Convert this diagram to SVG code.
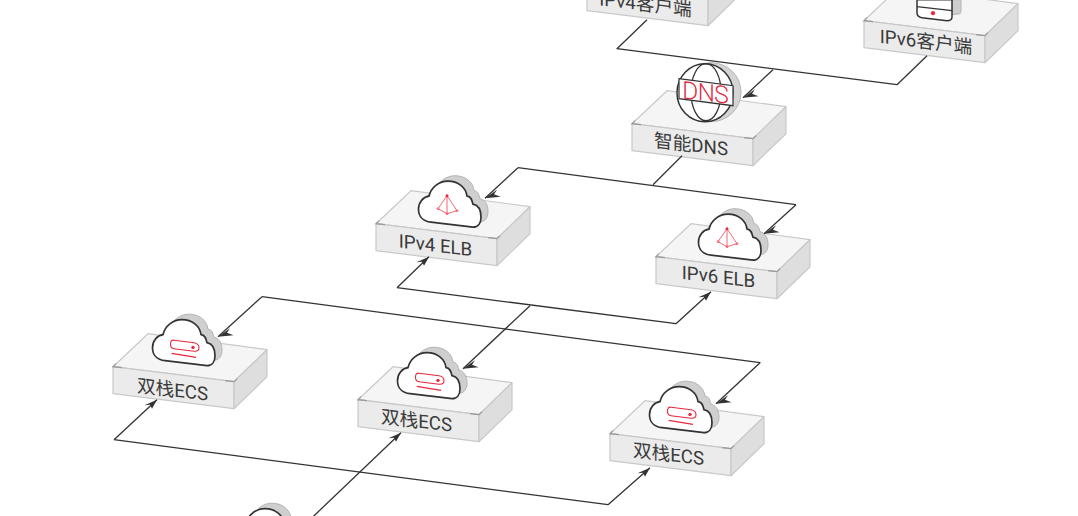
<svg xmlns="http://www.w3.org/2000/svg" width="1078" height="516" viewBox="0 0 1078 516">
<style>
.t{font-family:Roboto,"Noto Sans CJK SC",sans-serif;font-size:18.7px;fill:#3a3a3a;text-anchor:middle}
.c{fill:none;stroke:#333;stroke-width:1.3;stroke-linejoin:round}
.b{stroke:#c9c9c9;stroke-width:1.2;stroke-linejoin:round}
.r{fill:none;stroke:#e8273c;stroke-width:1.1}
.e{fill:none;stroke:#ee5a6a;stroke-width:.9}
</style>
<defs>
<marker id="a" markerUnits="userSpaceOnUse" markerWidth="18" markerHeight="12" refX="1" refY="10" orient="0"><path d="M1 10L13 1.5L10 6L16.5 8.5Z" fill="#333"/></marker>
<marker id="u" markerUnits="userSpaceOnUse" markerWidth="15" markerHeight="12" refX="14" refY="1" orient="0"><path d="M14 1L1.5 6.5L7 6L9 10Z" fill="#333"/></marker>
<g id="box">
<path class="b" d="M0 0L35-33L154-17L121 15Z" fill="#f5f5f5"/>
<path class="b" d="M0 0L121 15V42L0 27Z" fill="#ebebeb"/>
<path class="b" d="M121 15L154-17V10L121 42Z" fill="#dedede"/>
<path d="M3-3L0 0L9 1M112 14L121 15L124 12" fill="none" stroke="#999" stroke-width="1.2"/>
</g>
<path id="cl" d="M52-6C44-7 39.5-12 39.5-19C39.5-26 44-31 50-32C52-41 60-47 69-47C79-47 87-41 88-32C92-32 93-28 94-24C99-23 102-18 102-11C102-5 99-1 94-1Z"/>
<g id="cloud">
<use href="#cl" x="7" y="-5.5" fill="#cfcfcf" stroke="#b4b4b4"/>
<use href="#cl" fill="#fff" stroke="#333" stroke-width="1.7" stroke-linejoin="round"/>
</g>
<g id="ecsIcon">
<path class="r" d="M61-26.5L81-24Q86-23 86-19Q86-15 81-15.5L61-18Q57.5-18.5 57.5-22.5Q57.5-27 61-26.5Z"/>
<path class="r" d="M58.7-13.3L83-9.3"/>
<circle cx="80" cy="-19.3" r="1.7" fill="#e8273c"/>
</g>
<g id="elbIcon">
<path class="e" d="M71-28L62-15L71-10L81-13ZM71-28V-10"/>
<circle cx="71" cy="-28" r="1.5" fill="#e8273c"/>
<circle class="e" cx="62" cy="-15" r="1" fill="#fff"/><circle class="e" cx="71" cy="-10" r="1" fill="#fff"/><circle class="e" cx="81" cy="-13" r="1" fill="#fff"/>
</g>
</defs>
<rect width="1078" height="516" fill="#fff"/>
<g transform="translate(0 .7)">
<g id="node-ipv4-client"><use href="#box" x="587" y="-17"/><text class="t" transform="matrix(1 .12 0 1 645.5 10)">IPv4客户端</text></g>
<g id="node-ipv6-client"><use href="#box" x="864" y="20"/>
<path d="M952-1V14L960 13Q961 12 961 10V-1Z" fill="#cfcfcf" stroke="#b4b4b4"/>
<path d="M917-1V12Q917 16 922 17L947 20Q952 20 952 16V-1Z" fill="#fff" stroke="#333" stroke-width="1.5"/>
<path d="M917 6L952 10" stroke="#333" stroke-width="1.2" fill="none"/>
<circle cx="933" cy="12.5" r="2.1" fill="#e8273c"/>
<text class="t" transform="matrix(1 .12 0 1 926 47.5)">IPv6客户端</text></g>
<g id="node-dns"><use href="#box" x="632" y="123"/>
<ellipse cx="711" cy="91.5" rx="30" ry="29.5" fill="#d4d4d4" stroke="#b4b4b4"/>
<ellipse cx="705" cy="92" rx="28" ry="29" fill="#fff" stroke="#333" stroke-width="1.5"/>
<ellipse cx="706" cy="91.5" rx="15" ry="28.5" fill="none" stroke="#333" stroke-width="1.3"/>
<path d="M679 78L733 85V105L679 98Z" fill="#fff" stroke="#333" stroke-width="1.2"/>
<text transform="matrix(1 .12 0 1 705.5 100)" font-family="Roboto,sans-serif" font-weight="100" font-size="23.5" fill="#e8273c" stroke="#e8273c" stroke-width=".6" text-anchor="middle">DNS</text>
<text class="t" transform="matrix(1 .12 0 1 691 150.5)">智能DNS</text></g>
<g id="node-ipv4-elb"><use href="#box" x="376" y="223"/><use href="#cloud" x="379" y="227.5"/><use href="#elbIcon" x="376" y="223"/><text class="t" transform="matrix(1 .12 0 1 435.5 251)">IPv4 ELB</text></g>
<g id="node-ipv6-elb"><use href="#box" x="656" y="256"/><use href="#cloud" x="659" y="260.5"/><use href="#elbIcon" x="656" y="256"/><text class="t" transform="matrix(1 .12 0 1 718.5 282.5)">IPv6 ELB</text></g>
<g id="node-ecs1"><use href="#box" x="113" y="366"/><use href="#cloud" x="113" y="366"/><use href="#ecsIcon" x="113" y="366"/><text class="t" transform="matrix(1 .12 0 1 172.5 395.5)">双栈ECS</text></g>
<g id="node-ecs2"><use href="#box" x="358" y="399"/><use href="#cloud" x="358" y="399"/><use href="#ecsIcon" x="358" y="399"/><text class="t" transform="matrix(1 .12 0 1 416.5 426.5)">双栈ECS</text></g>
<g id="node-ecs3"><use href="#box" x="610" y="433"/><use href="#cloud" x="610" y="433"/><use href="#ecsIcon" x="610" y="433"/><text class="t" transform="matrix(1 .12 0 1 668.5 460)">双栈ECS</text></g>
<g id="node-ecs4"><use href="#cloud" x="196" y="555"/></g>
<g id="connectors">
<path class="c" d="M647 19L617 48L897 84L927 55"/>
<path class="c" d="M773 69L743 97" marker-end="url(#a)"/>
<path class="c" d="M682 155L653 184"/>
<path class="c" d="M518 167L796 204"/>
<path class="c" d="M518 167L485 197.5" marker-end="url(#a)"/>
<path class="c" d="M796 204L764 233" marker-end="url(#a)"/>
<path class="c" d="M397 287L429 256" marker-end="url(#u)"/>
<path class="c" d="M397 287L676 323L711 291" marker-end="url(#u)"/>
<path class="c" d="M530 305L463 368" marker-end="url(#a)"/>
<path class="c" d="M262 296L218 336" marker-end="url(#a)"/>
<path class="c" d="M262 296L760 362L716 403" marker-end="url(#a)"/>
<path class="c" d="M114 439L157 399" marker-end="url(#u)"/>
<path class="c" d="M114 439L608 504L650 467" marker-end="url(#u)"/>
<path class="c" d="M312 517L401 432" marker-end="url(#u)"/>
</g>
</g>
</svg>
